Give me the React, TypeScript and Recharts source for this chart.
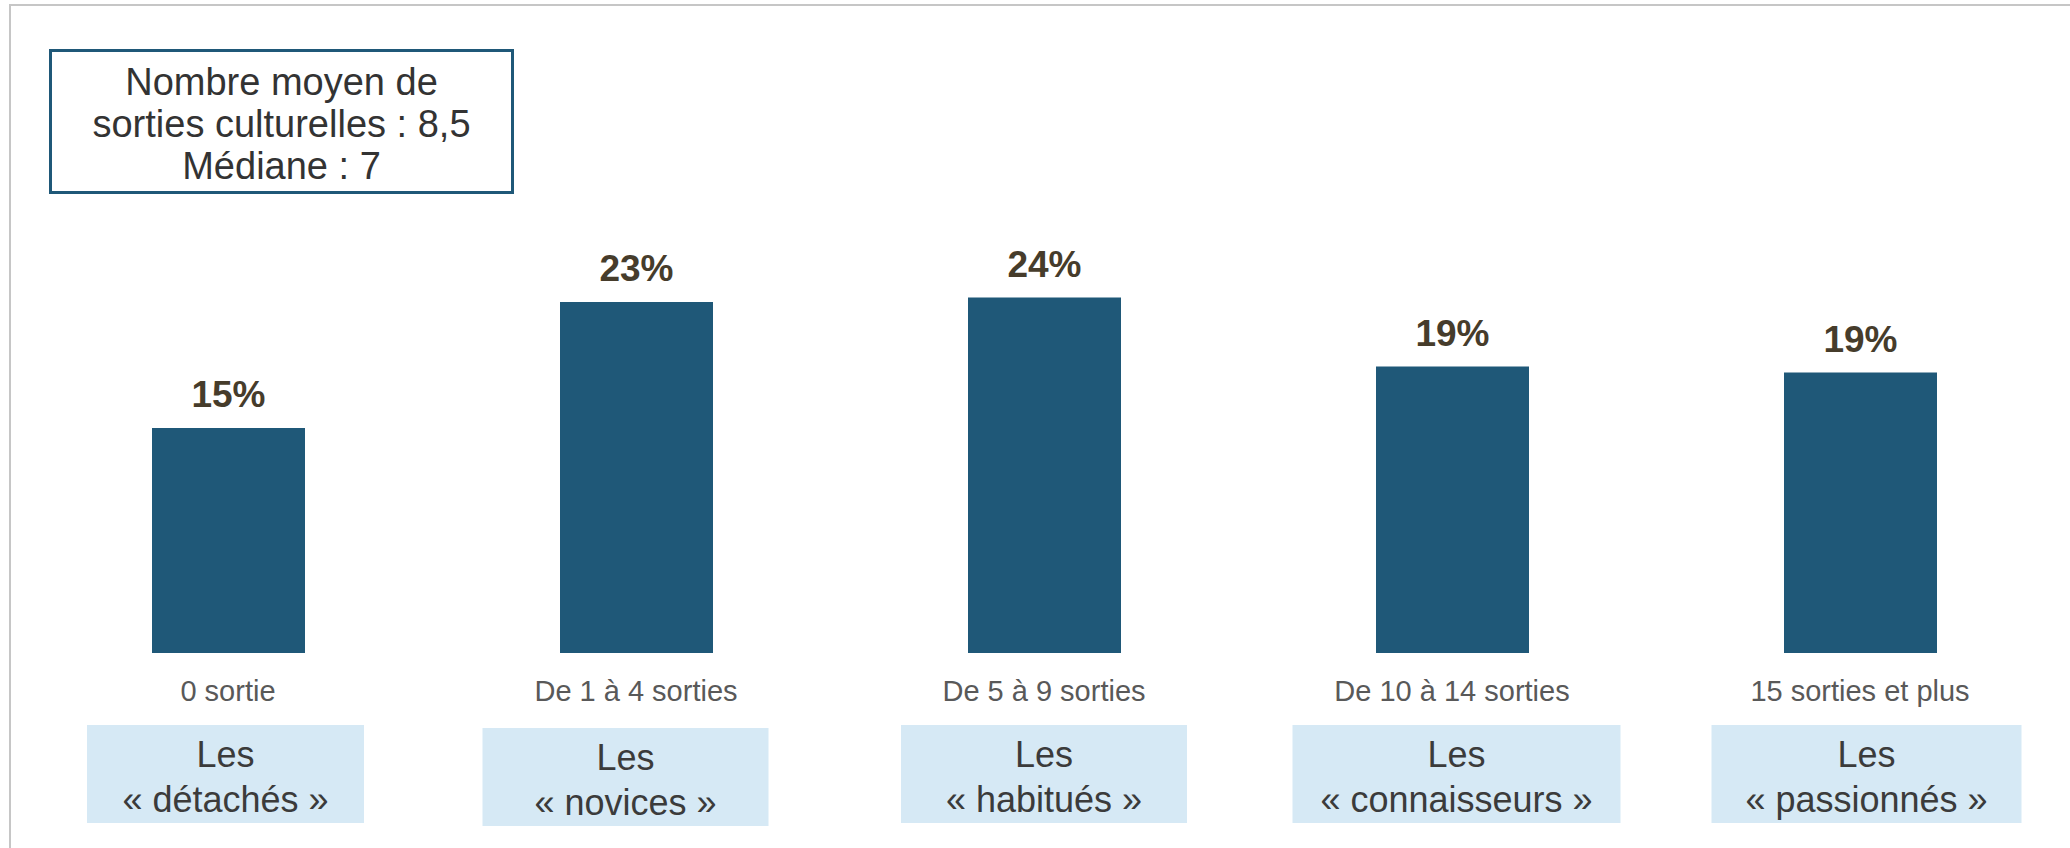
import { BarChart, Bar, XAxis, YAxis, LabelList } from "recharts";

const categories = [
  "0 sortie",
  "De 1 à 4 sorties",
  "De 5 à 9 sorties",
  "De 10 à 14 sorties",
  "15 sorties et plus",
];

const shares = [15.0, 23.4, 23.7, 19.1, 18.7];

const profiles = [
  "« détachés »",
  "« novices »",
  "« habitués »",
  "« connaisseurs »",
  "« passionnés »",
];

const summaryLines = [
  "Nombre moyen de",
  "sorties culturelles : 8,5",
  "Médiane : 7",
];

// layout of the profile boxes under the axis labels (offset from tick, width, vertical nudge)
const BOX_DX = [-2.5, -10.5, 0, 4.5, 6.5];
const BOX_W = [277, 286, 286, 328, 310];
const BOX_DY = [0, 3, 0, 0, 0];

const FONT = "'Liberation Sans', Arial, Helvetica, sans-serif";
const BAR_COLOR = "#1f5878";
const BOX_FILL = "#d6e9f5";

const data = categories.map((name, i) => ({
  name,
  share: shares[i],
  profile: profiles[i],
}));

function CategoryTick(props: any) {
  const { x, y, payload, index } = props;
  const i = index ?? categories.indexOf(payload.value);
  const bw = BOX_W[i] ?? 290;
  const cx = x + (BOX_DX[i] ?? 0);
  const dy = BOX_DY[i] ?? 0;
  return (
    <g>
      <text
        x={x}
        y={y + 40}
        textAnchor="middle"
        fontFamily={FONT}
        fontSize={29}
        fill="#595959"
      >
        {payload.value}
      </text>
      <rect x={cx - bw / 2} y={y + 64 + dy} width={bw} height={98} fill={BOX_FILL} />
      <text
        x={cx}
        y={y + 106 + dy}
        textAnchor="middle"
        fontFamily={FONT}
        fontSize={36}
        fill="#3b3b3b"
      >
        Les
      </text>
      <text
        x={cx}
        y={y + 151 + dy}
        textAnchor="middle"
        fontFamily={FONT}
        fontSize={36}
        fill="#3b3b3b"
      >
        {profiles[i]}
      </text>
    </g>
  );
}

export default function App() {
  return (
    <div
      style={{
        position: "absolute",
        left: 0,
        top: 0,
        width: 2070,
        height: 848,
        background: "#fff",
        overflow: "hidden",
      }}
    >
      <div
        style={{
          position: "absolute",
          left: 9,
          top: 4,
          width: 2070,
          height: 900,
          borderLeft: "2px solid #c6c6c6",
          borderTop: "2px solid #c6c6c6",
        }}
      />
      <div
        style={{
          position: "absolute",
          left: 49,
          top: 49,
          width: 465,
          height: 145,
          boxSizing: "border-box",
          border: `3px solid ${BAR_COLOR}`,
          fontFamily: FONT,
          fontSize: 38,
          lineHeight: "42px",
          color: "#333",
          textAlign: "center",
          paddingTop: 9,
        }}
      >
        {summaryLines.map((l) => (
          <div key={l}>{l}</div>
        ))}
      </div>
      <div style={{ position: "absolute", left: 0, top: 0 }}>
        <BarChart
          width={2070}
          height={848}
          data={data}
          margin={{ top: 203, right: 6, left: 24, bottom: 0 }}
        >
          <XAxis
            dataKey="name"
            axisLine={false}
            tickLine={false}
            height={195}
            interval={0}
            tick={<CategoryTick />}
          />
          <YAxis hide domain={[0, 30]} />
          <Bar
            dataKey="share"
            fill={BAR_COLOR}
            barSize={153}
            isAnimationActive={false}
          >
            <LabelList
              dataKey="share"
              position="top"
              offset={21}
              formatter={(v: any) => `${Math.round(Number(v))}%`}
              style={{
                fontFamily: FONT,
                fontSize: 37,
                fontWeight: "bold",
                fill: "#463c2b",
              }}
            />
          </Bar>
        </BarChart>
      </div>
    </div>
  );
}
